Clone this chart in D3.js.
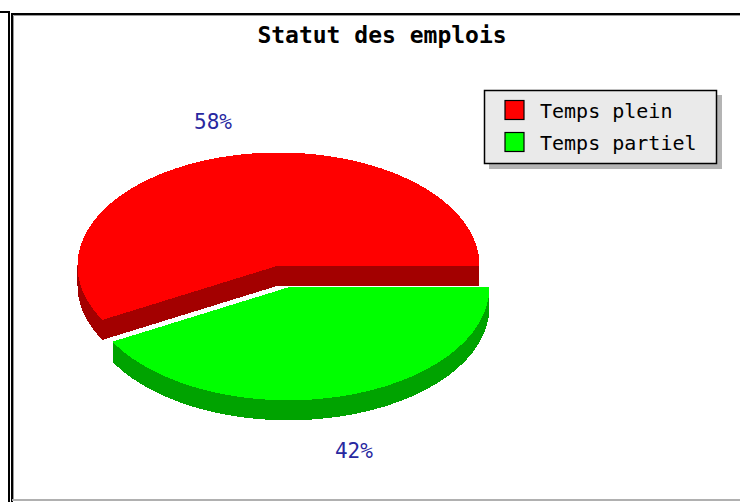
<!DOCTYPE html>
<html>
<head>
<meta charset="utf-8">
<script src="https://d3js.org/d3.v7.min.js"></script>
<style>
body { margin: 0; background: #fff; }
svg { display: block; }
</style>
</head>
<body>
<svg width="740" height="502"></svg>
<script>

// data
var categories = ["Temps plein", "Temps partiel"];
var values = [58, 42];
var colors = ["#ff0000", "#00ff00"];
var title = "Statut des emplois";

var svg = d3.select("svg"),
	width = +svg.attr("width"),
	height = +svg.attr("height");

// frame bits (the picture is a crop of a bigger page)
svg.append("rect").attr("x", 0).attr("y", 0).attr("width", width).attr("height", height).attr("fill", "#fff");
svg.append("line").attr("x1", 0).attr("x2", 10).attr("y1", 12).attr("y2", 12).attr("stroke", "#000").attr("stroke-width", 2);
svg.append("line").attr("x1", 9).attr("x2", 9).attr("y1", 11).attr("y2", height).attr("stroke", "#000").attr("stroke-width", 2);
svg.append("path").attr("d", "M12," + height + "V14H" + width).attr("fill", "none").attr("stroke", "#000").attr("stroke-width", 2);
svg.append("path").attr("d", "M13.5," + (height - 3) + "V15.5H" + width).attr("fill", "none").attr("stroke", "#999").attr("stroke-width", 1);
svg.append("line").attr("x1", 12).attr("x2", width).attr("y1", 500).attr("y2", 500).attr("stroke", "#b0b0b0").attr("stroke-width", 2);

svg.append("text")
	.attr("x", 382)
	.attr("y", 43)
	.attr("text-anchor", "middle")
	.attr("font-family", "DejaVu Sans Mono")
	.attr("font-weight", "bold")
	.attr("font-size", "23px")
	.attr("fill", "#000")
	.text(title);

// 3d pie
var cx = 278.5, cy = 265.5, rx = 201, ry = 113, depth = 20;
var ratio = ry / rx;
var explodedSlice = 1, explodeDist = 40;

var pie = d3.pie()
	.sort(null)
	.startAngle(Math.PI / 2)
	.endAngle(Math.PI / 2 - 2 * Math.PI);

var arcs = pie(values);
var arc = d3.arc().innerRadius(0).outerRadius(rx);
var total = d3.sum(values);

var pieG = svg.append("g").attr("shape-rendering", "crispEdges");

arcs.forEach(function(d, i) {
	var mid = (d.startAngle + d.endAngle) / 2;
	var ox = 0, oy = 0;
	if (i === explodedSlice) {
		ox = Math.sin(mid) * explodeDist;
		oy = -Math.cos(mid) * explodeDist * ratio;
	}
	var c = d3.rgb(colors[i]);
	var side = d3.rgb(c.r * 0.64, c.g * 0.64, c.b * 0.64);
	var g = pieG.append("g");
	for (var k = depth; k >= 1; k--) {
		g.append("path")
			.attr("d", arc(d))
			.attr("fill", side)
			.attr("transform", "translate(" + (cx + ox) + "," + (cy + oy + k) + ") scale(1," + ratio + ")");
	}
	g.append("path")
		.attr("d", arc(d))
		.attr("fill", c)
		.attr("transform", "translate(" + (cx + ox) + "," + (cy + oy) + ") scale(1," + ratio + ")");
	d.ox = ox; d.oy = oy; d.mid = mid;
});

// labels
arcs.forEach(function(d, i) {
	var lx = cx + d.ox + Math.sin(d.mid) * rx * 1.31;
	var ly = cy + d.oy - Math.cos(d.mid) * ry * 1.31;
	if (Math.cos(d.mid) < 0) ly += depth;
	svg.append("text")
		.attr("x", lx)
		.attr("y", ly)
		.attr("text-anchor", "middle")
		.attr("dominant-baseline", "central")
		.attr("font-family", "DejaVu Sans Mono")
		.attr("font-size", "21px")
		.attr("fill", "#2828a0")
		.text(Math.round(values[i] / total * 100) + "%");
});

// legend
var lg = svg.append("g");
lg.append("rect").attr("x", 489).attr("y", 95).attr("width", 233).attr("height", 74).attr("fill", "#b4b4b4");
lg.append("rect").attr("x", 484.5).attr("y", 90.5).attr("width", 232).attr("height", 73)
	.attr("fill", "#eaeaea").attr("stroke", "#000").attr("stroke-width", 1.5);

var rowY = d3.scaleBand().domain(categories).range([94, 158]);

categories.forEach(function(name, i) {
	var yc = rowY(name) + rowY.bandwidth() / 2;
	lg.append("rect")
		.attr("x", 505).attr("y", yc - 9.5)
		.attr("width", 19).attr("height", 19)
		.attr("fill", colors[i]).attr("stroke", "#000").attr("stroke-width", 1.2);
	lg.append("text")
		.attr("x", 540).attr("y", yc + 1)
		.attr("dominant-baseline", "central")
		.attr("font-family", "DejaVu Sans Mono")
		.attr("font-size", "20px")
		.attr("fill", "#000")
		.text(name);
});

</script>
</body>
</html>
